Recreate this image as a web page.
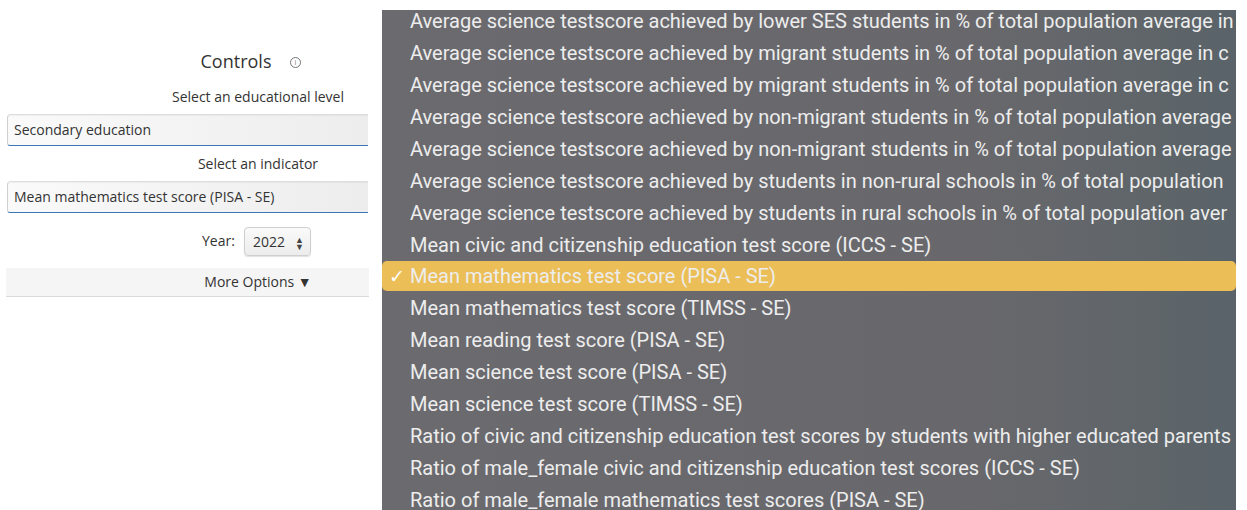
<!DOCTYPE html>
<html>
<head>
<meta charset="utf-8">
<script src="https://cdn.jsdelivr.net/npm/chart.js@4"></script>
<style>
  html,body{margin:0;padding:0;background:#fff;width:1247px;height:510px;overflow:hidden;font-family:"Open Sans",sans-serif;color:#333;}
  .abs{position:absolute;}
  #title{left:0;width:472px;top:49px;text-align:center;font-size:18px;line-height:24px;color:#333;}
  #info{left:290px;top:57px;width:9px;height:9px;border:1px solid #777;border-radius:50%;font-size:7px;line-height:9px;text-align:center;color:#777;}
  .lbl{left:0;width:516px;text-align:center;font-size:14px;line-height:20px;color:#333;}
  .sel{left:7px;width:361px;height:32px;box-sizing:border-box;border-top:1px solid #ddd;border-left:1px solid #d0d0d0;border-bottom:1px solid #3a78b5;border-radius:4px 0 0 3px;background:linear-gradient(to right,#fafafa,#ededed);font-size:14px;line-height:30px;padding-left:6px;color:#333;box-shadow:inset 0 1px 1px rgba(0,0,0,0.04);}
  #yearLbl{left:202px;top:231px;font-size:14px;line-height:20px;}
  #yearSel{left:244px;top:227px;width:67px;height:29px;box-sizing:border-box;border:1px solid #cfcfcf;border-radius:4px;background:linear-gradient(#fafafa,#ececec);font-size:14px;line-height:27px;padding-left:8px;box-shadow:0 1px 1px rgba(0,0,0,0.12);}
  #yearArrow{position:absolute;right:6px;font-size:9px;color:#444;}
  #more{left:6px;top:268px;width:363px;height:29px;box-sizing:border-box;background:#f5f5f5;border-bottom:1px solid #d9d9d9;}
  #moreTxt{left:0;width:516px;top:272px;text-align:center;font-size:14px;line-height:20px;color:#333;}
  #panel{left:382px;top:10px;width:854px;height:500px;overflow:hidden;background:linear-gradient(to right,#6b6b6f 0%,#68686c 70%,#5f6569 90%,#596369 100%);}
  .opt{position:absolute;left:28px;white-space:nowrap;font-family:Roboto,"Noto Sans",sans-serif;font-size:20px;line-height:32px;color:#ededed;}
  #hl{position:absolute;left:0;width:854px;height:30px;border-radius:5px;background:#ecbe57;}
  .check{position:absolute;left:7px;font-family:"DejaVu Sans",sans-serif;font-size:19px;line-height:32px;color:#fff;}
</style>
</head>
<body>
<script>
// Options listed in the open indicator dropdown (as far as they are visible)
const indicatorOptions = [
  "Average science testscore achieved by lower SES students in % of total population average in",
  "Average science testscore achieved by migrant students in % of total population average in c",
  "Average science testscore achieved by migrant students in % of total population average in c",
  "Average science testscore achieved by non-migrant students in % of total population average",
  "Average science testscore achieved by non-migrant students in % of total population average",
  "Average science testscore achieved by students in non-rural schools in % of total population",
  "Average science testscore achieved by students in rural schools in % of total population aver",
  "Mean civic and citizenship education test score (ICCS - SE)",
  "Mean mathematics test score (PISA - SE)",
  "Mean mathematics test score (TIMSS - SE)",
  "Mean reading test score (PISA - SE)",
  "Mean science test score (PISA - SE)",
  "Mean science test score (TIMSS - SE)",
  "Ratio of civic and citizenship education test scores by students with higher educated parents",
  "Ratio of male_female civic and citizenship education test scores (ICCS - SE)",
  "Ratio of male_female mathematics test scores (PISA - SE)"
];
const selectedIndicator = "Mean mathematics test score (PISA - SE)";
const educationLevel = "Secondary education";
const selectedYear = "2022";

function el(tag, cls, id, text){
  const e=document.createElement(tag);
  if(cls) e.className=cls;
  if(id) e.id=id;
  if(text!==undefined) e.textContent=text;
  document.body.appendChild(e);
  return e;
}
el('div','abs','title','Controls');
el('div','abs','info','i');
const l1=el('div','abs lbl',null,'Select an educational level'); l1.style.top='87px';
const s1=el('div','abs sel',null,educationLevel); s1.style.top='114px';
const l2=el('div','abs lbl',null,'Select an indicator'); l2.style.top='154px';
const s2=el('div','abs sel',null,selectedIndicator); s2.style.top='181px';
el('div','abs','yearLbl','Year:');
const ys=el('div','abs','yearSel',selectedYear);
const ya=document.createElement('span'); ya.id='yearArrow'; ya.textContent='▲\n▼'; ya.style.whiteSpace='pre'; ya.style.lineHeight='7px'; ya.style.top='8px'; ys.appendChild(ya);
el('div','abs','more');
el('div','abs','moreTxt','More Options ▼');

const panel=el('div','abs','panel');
const step=31.93, first=-5;
indicatorOptions.forEach((txt,i)=>{
  const top=first+step*i;
  if(txt===selectedIndicator){
    const hl=document.createElement('div'); hl.id='hl'; hl.style.top=(top+1)+'px'; panel.appendChild(hl);
    const c=document.createElement('div'); c.className='check'; c.textContent='✓'; c.style.top=top+'px'; panel.appendChild(c);
  }
  const o=document.createElement('div'); o.className='opt'; o.textContent=txt; o.style.top=top+'px';
  panel.appendChild(o);
});
</script>
</body>
</html>
